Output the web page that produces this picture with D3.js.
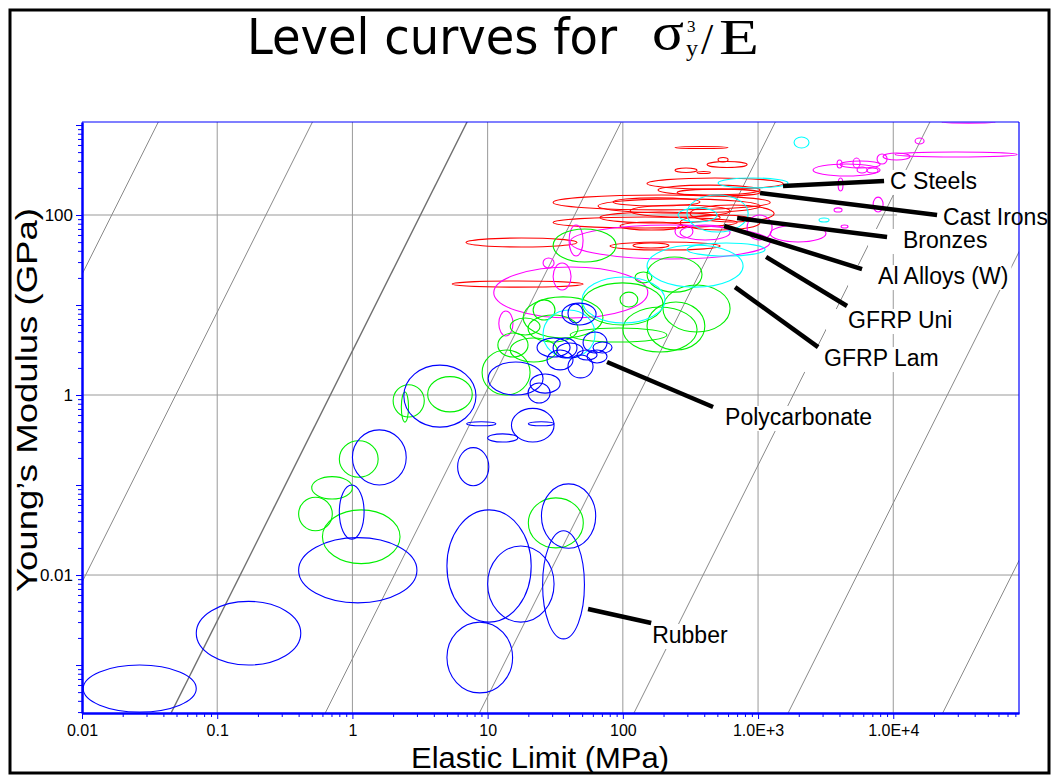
<!DOCTYPE html>
<html lang="en">
<head>
<meta charset="UTF-8">
<title>Level curves</title>
<script src="https://cdnjs.cloudflare.com/ajax/libs/d3/7.8.5/d3.min.js"></script>
<style>
body { margin: 0; background: #fff; }
svg { display: block; font-family: "Liberation Sans", Arial, sans-serif; }
.grid line { stroke: #999; stroke-width: 1; }
.axis path, .axis line { stroke: #0000ff; }
.axis text { fill: #000; }
.bubble { fill: none; stroke-width: 1.1; }
</style>
</head>
<body>
<script>
// log10 of sigma^3/E for each level curve
var levelLogC = [-7.34, -3.92, -0.49, 2.93, 6.35, 9.78, 13.2, 16.63];

var xDomain = [0.01, 85100];
var yDomain = [2.93e-4, 1080];
var xTickValues = [0.01, 0.1, 1, 10, 100, 1000, 10000];
var xTickLabels = ["0.01", "0.1", "1", "10", "100", "1.0E+3", "1.0E+4"];
var yTickValues = [0.01, 1, 100];
var yTickLabels = ["0.01", "1", "100"];

// bubbles: [elastic limit lo, hi (MPa), modulus lo, hi (GPa)]
var redBubbles = [
  [243, 600, 548, 577], [506, 600, 388, 435], [420, 830, 337, 393],
  [243, 354, 297, 333], [354, 444, 289, 304], [151, 1530, 194, 258],
  [182, 1035, 167, 215], [252, 1035, 163, 194], [30.5, 1230, 114, 167],
  [65.6, 1035, 105, 151], [84.6, 372, 126, 155], [113, 621, 95, 129],
  [67.8, 524, 81.5, 108], [30.5, 700, 71.7, 95], [95.3, 279, 68.1, 83.6],
  [314, 1315, 83.6, 129], [265, 1035, 68.1, 100], [6.92, 45.8, 44.1, 55.5],
  [80.4, 524, 40.8, 50.1], [119, 219, 43.0, 48.9], [5.46, 50.8, 15.8, 18.5]
];
var magentaBubbles = [
  [40, 50.8, 35, 77.4], [25.7, 31, 25.8, 33.3], [30.5, 41.4, 14.7, 29.3],
  [11.1, 153, 7.17, 26.4], [12.1, 15.4, 4.53, 8.58], [40.7, 1230, 32.4, 77.4],
  [243, 330, 55.5, 77.4], [265, 621, 52.7, 77.4], [830, 1270, 52.7, 100],
  [1230, 3180, 50.1, 77.4], [2550, 7990, 271, 369], [4040, 7990, 333, 398],
  [3840, 4180, 333, 408], [5040, 5680, 333, 430], [5400, 6400, 293, 341],
  [6400, 7720, 293, 333], [7590, 9000, 369, 476], [8410, 13300, 408, 489],
  [14500, 16900, 615, 717], [10300, 82400, 441, 501], [22960, 56600, 1050, 1110],
  [3910, 4250, 185, 258], [7100, 8410, 108, 158], [3650, 4180, 108, 120],
  [4110, 4630, 71.7, 77.4]
];
var greenBubbles = [
  [30.5, 89.1, 30, 69.9], [18.3, 71.3, 4.3, 12.3], [21.7, 31.5, 6.81, 11.4],
  [19.9, 46.6, 3.88, 7.74], [14.7, 24.4, 4.64, 7.17], [11.9, 19.9, 2.64, 4.89],
  [9.1, 20.6, 1.0, 3.16], [14.7, 32.6, 2.33, 4.3], [40.7, 212, 3.88, 5.55],
  [95.3, 129, 9.5, 13.9], [49.9, 198, 5.99, 17.6], [123, 164, 17.6, 23.3],
  [151, 385, 13.9, 34.2], [198, 621, 5.01, 16.7], [100, 354, 3.0, 9.5],
  [151, 404, 3.16, 10.8], [2.0, 3.4, 0.57, 1.3], [3.6, 7.7, 0.65, 1.6],
  [2.3, 2.6, 0.5, 1.08], [0.6, 2.25, 0.0134, 0.053], [0.40, 0.71, 0.031, 0.073],
  [0.5, 1.0, 0.07, 0.124], [0.8, 1.55, 0.122, 0.31], [20, 51, 0.020, 0.072]
];
var cyanBubbles = [
  [49.9, 205, 6.31, 20.5], [25.7, 62.3, 2.58, 8.8], [151, 775, 15.8, 46.4],
  [298, 1127, 35, 48.9], [298, 845, 64.7, 167], [256, 498, 83.6, 120],
  [506, 1667, 200, 258], [1846, 2382, 555, 736], [2825, 3350, 83.6, 92.6]
];
var blueBubbles = [
  [35.5, 63.4, 5.99, 10.5], [39.3, 50.8, 6.31, 10.3], [23.2, 40.7, 2.64, 4.3],
  [30.5, 45.8, 2.58, 4.3], [27.5, 42.8, 1.9, 3.16], [39.3, 60.2, 1.55, 2.78],
  [50.8, 76.4, 2.93, 5.01], [60.2, 83.2, 2.93, 3.88], [54.3, 76.4, 2.27, 3.16],
  [32.6, 50.8, 2.58, 3.78], [45.8, 64.5, 2.45, 3.16], [10.1, 25.7, 1.0, 2.33],
  [20.6, 34.4, 1.05, 1.71], [19.9, 29, 0.815, 1.36], [2.4, 8.2, 0.44, 2.15],
  [0.0102, 0.07, 0.0003, 0.001], [0.07, 0.415, 0.001, 0.0051], [0.4, 3.0, 0.0049, 0.026],
  [0.8, 1.22, 0.025, 0.10], [1.0, 2.5, 0.10, 0.41], [7.0, 11.5, 0.455, 0.505],
  [10, 16.7, 0.30, 0.37], [15, 31, 0.30, 0.71], [20, 31, 0.455, 0.505],
  [6.0, 10.2, 0.098, 0.26], [5.0, 21, 0.003, 0.053], [10, 31, 0.003, 0.021],
  [5.0, 15.3, 0.00049, 0.003], [25, 63, 0.0198, 0.103], [25.5, 52, 0.00195, 0.031]
];

// annotations
var labelNames = ["C Steels", "Cast Irons", "Bronzes", "Al Alloys (W)", "GFRP Uni", "GFRP Lam", "Polycarbonate", "Rubber"];
var pointerFrom = [[1530, 210], [1035, 176], [700, 92.6], [561, 75.5], [1146, 34.2], [676, 15.8], [76.4, 2.33], [55.3, 0.00419]];
var pointerTo = [[8550, 239], [21090, 100], [8995, 57], [5877, 25.1], [4550, 9.75], [2780, 3.41], [465, 0.736], [162, 0.00293]];

var W = 1057, H = 776;
var plot = {left: 82, right: 1019, top: 122, bottom: 713};

var x = d3.scaleLog().domain(xDomain).range([plot.left, plot.right]);
var y = d3.scaleLog().domain(yDomain).range([plot.bottom, plot.top]);

var svg = d3.select("body").append("svg")
  .attr("width", W).attr("height", H);

svg.append("rect").attr("x", 0).attr("y", 0).attr("width", W).attr("height", H).attr("fill", "#fff");

svg.append("clipPath").attr("id", "plotclip")
  .append("rect")
  .attr("x", plot.left).attr("y", plot.top)
  .attr("width", plot.right - plot.left).attr("height", plot.bottom - plot.top);

// grid
var grid = svg.append("g").attr("class", "grid");
grid.selectAll(".gx").data(xTickValues.slice(1)).enter().append("line")
  .attr("x1", d => x(d)).attr("x2", d => x(d))
  .attr("y1", plot.top).attr("y2", plot.bottom);
grid.selectAll(".gy").data(yTickValues).enter().append("line")
  .attr("x1", plot.left).attr("x2", plot.right)
  .attr("y1", d => y(d)).attr("y2", d => y(d));

// level curves  E = sigma^3 / C
var levels = svg.append("g").attr("clip-path", "url(#plotclip)");
levels.selectAll("line").data(levelLogC).enter().append("line")
  .attr("x1", x(1e-3)).attr("y1", d => y(Math.pow(10, -9 - d)))
  .attr("x2", x(1e6)).attr("y2", d => y(Math.pow(10, 18 - d)))
  .attr("stroke", (d, i) => i == 2 ? "#707070" : "#8a8a8a")
  .attr("stroke-width", (d, i) => i == 2 ? 1.4 : 1);

// white label boxes (they hide the grid behind the labels)
var padLeft = [4, 46, 35, 30, 22, 20, 4, 4];
var textOffset = [[6, 8], [6, 10], [16, 11], [16, 15], [1, 22], [6, 19], [12, 18], [1, 20]];

var boxes = svg.append("g");

// bubbles
var groups = [
  {data: redBubbles, color: "#ff0000"},
  {data: magentaBubbles, color: "#ff00ff"},
  {data: greenBubbles, color: "#00f000"},
  {data: cyanBubbles, color: "#00ffff"},
  {data: blueBubbles, color: "#0000ff"}
];
var bubbleLayer = svg.append("g").attr("clip-path", "url(#plotclip)");
groups.forEach(function(g) {
  bubbleLayer.append("g").selectAll("ellipse").data(g.data).enter().append("ellipse")
    .attr("class", "bubble")
    .attr("stroke", g.color)
    .attr("cx", d => (x(d[0]) + x(d[1])) / 2)
    .attr("cy", d => (y(d[2]) + y(d[3])) / 2)
    .attr("rx", d => (x(d[1]) - x(d[0])) / 2)
    .attr("ry", d => (y(d[2]) - y(d[3])) / 2);
});

// axes
var xMinor = x.ticks().filter(d => xTickValues.indexOf(d) < 0);
var yMajor = [1e-3, 1e-2, 0.1, 1, 10, 100, 1000];
var yMinor = y.ticks().filter(d => yMajor.indexOf(d) < 0);

var xAxisMinor = d3.axisBottom(x).tickValues(xMinor).tickSize(4).tickSizeOuter(0).tickFormat("");
var xAxis = d3.axisBottom(x).tickValues(xTickValues).tickSize(6).tickSizeOuter(0)
  .tickFormat((d, i) => xTickLabels[i]);
var yAxisMinor = d3.axisLeft(y).tickValues(yMinor).tickSize(4).tickSizeOuter(0).tickFormat("");
var yAxis = d3.axisLeft(y).tickValues(yMajor).tickSize(6).tickSizeOuter(0)
  .tickFormat(d => { var k = yTickValues.indexOf(d); return k < 0 ? "" : yTickLabels[k]; });

svg.append("g").attr("class", "axis").attr("transform", "translate(0," + plot.bottom + ")").call(xAxisMinor);
var gx = svg.append("g").attr("class", "axis").attr("transform", "translate(0," + plot.bottom + ")").call(xAxis);
gx.selectAll("text").attr("font-size", 16).attr("y", 12).attr("dy", "0.71em");
gx.select(".domain").attr("stroke-width", 2.5);

svg.append("g").attr("class", "axis").attr("transform", "translate(" + plot.left + ",0)").call(yAxisMinor);
var gy = svg.append("g").attr("class", "axis").attr("transform", "translate(" + plot.left + ",0)").call(yAxis);
gy.selectAll("text").attr("font-size", 17).attr("x", -9);
gy.select(".domain").attr("stroke-width", 2.5);

// top and right frame of plot
svg.append("line").attr("x1", plot.left).attr("x2", plot.right).attr("y1", plot.top).attr("y2", plot.top)
  .attr("stroke", "#0000ff").attr("stroke-width", 1.2);
svg.append("line").attr("x1", plot.right).attr("x2", plot.right).attr("y1", plot.top).attr("y2", plot.bottom)
  .attr("stroke", "#0000ff").attr("stroke-width", 1.2);

// labels + pointers
var ann = svg.append("g");
labelNames.forEach(function(name, i) {
  var x1 = x(pointerFrom[i][0]), y1 = y(pointerFrom[i][1]);
  var x2 = x(pointerTo[i][0]), y2 = y(pointerTo[i][1]);
  var tx = x2 + textOffset[i][0], ty = y2 + textOffset[i][1];
  var t = ann.append("text").attr("x", tx).attr("y", ty)
    .attr("font-size", 23).attr("fill", "#000").text(name);
  var w = t.node().getComputedTextLength();
  boxes.append("rect")
    .attr("x", tx - padLeft[i]).attr("y", ty - 19)
    .attr("width", w + padLeft[i] + 3).attr("height", 25)
    .attr("fill", "#fff");
  ann.append("line").attr("x1", x1).attr("y1", y1).attr("x2", x2).attr("y2", y2)
    .attr("stroke", "#000").attr("stroke-width", 4.5);
});

// axis titles
svg.append("text")
  .attr("x", 540).attr("y", 768)
  .attr("text-anchor", "middle")
  .attr("font-size", 29)
  .attr("textLength", 258).attr("lengthAdjust", "spacingAndGlyphs")
  .text("Elastic Limit (MPa)");

svg.append("text")
  .attr("transform", "translate(37,400) rotate(-90)")
  .attr("text-anchor", "middle")
  .attr("font-size", 30)
  .attr("textLength", 384).attr("lengthAdjust", "spacingAndGlyphs")
  .text("Young\u2019s Modulus (GPa)");

// title
svg.append("text")
  .attr("x", 247).attr("y", 54)
  .attr("font-family", "'DejaVu Sans Condensed', 'DejaVu Sans', sans-serif")
  .style("font-stretch", "condensed")
  .attr("font-size", 50)
  .attr("textLength", 370).attr("lengthAdjust", "spacingAndGlyphs")
  .text("Level curves for");

var serif = "'Liberation Serif', 'Times New Roman', serif";
svg.append("text").attr("x", 652).attr("y", 49).attr("font-family", serif).attr("font-size", 52)
  .attr("textLength", 32).attr("lengthAdjust", "spacingAndGlyphs").text("\u03c3");
svg.append("text").attr("x", 687).attr("y", 32).attr("font-family", serif).attr("font-size", 17).text("3");
svg.append("text").attr("x", 686).attr("y", 56).attr("font-family", serif).attr("font-size", 24).text("y");
svg.append("text").attr("x", 701).attr("y", 54).attr("font-family", serif).attr("font-size", 44).text("/");
svg.append("text").attr("x", 719).attr("y", 54).attr("font-family", serif).attr("font-size", 50)
  .attr("textLength", 40).attr("lengthAdjust", "spacingAndGlyphs").text("E");

// outer frame
svg.append("rect").attr("x", 10).attr("y", 10).attr("width", 1039).attr("height", 763)
  .attr("fill", "none").attr("stroke", "#000").attr("stroke-width", 3);
</script>
</body>
</html>
